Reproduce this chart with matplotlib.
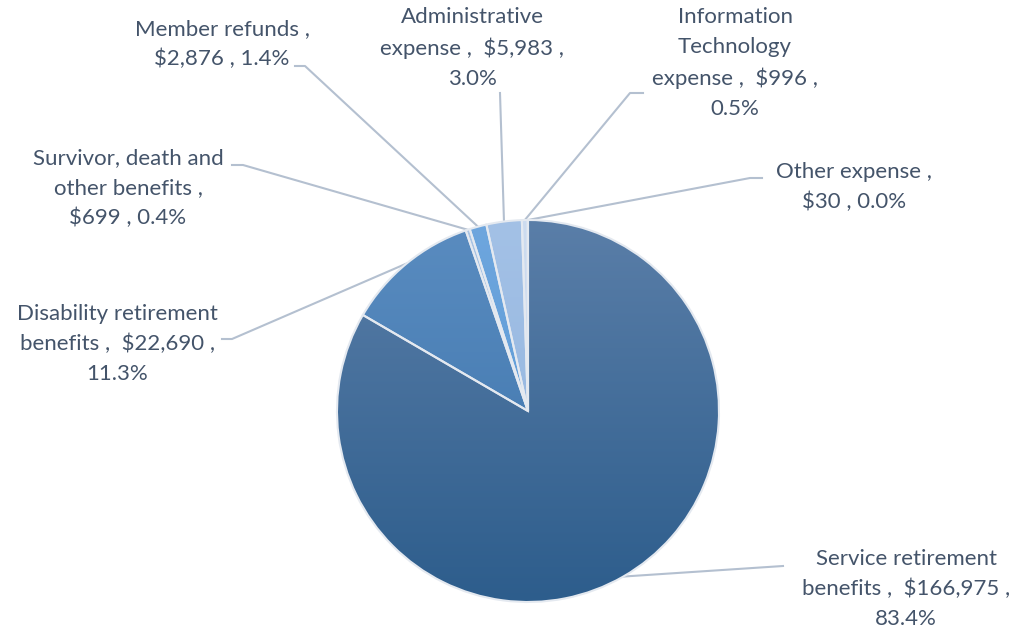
import numpy as np
import matplotlib
matplotlib.use("Agg")
import matplotlib.pyplot as plt
from matplotlib.colors import LinearSegmentedColormap

# expense categories and amounts (thousands)
categories = ["Service retirement\nbenefits", "Disability retirement\nbenefits",
              "Survivor, death and\nother benefits", "Member refunds",
              "Administrative\nexpense", "Information\nTechnology\nexpense",
              "Other expense"]
amounts = [166975, 22690, 699, 2876, 5983, 996, 30]
pcts = [83.4, 11.3, 0.4, 1.4, 3.0, 0.5, 0.0]

label_texts = [
    "Service retirement\nbenefits ,  $166,975 ,\n83.4%",
    "Disability retirement\nbenefits ,  $22,690 ,\n11.3%",
    "Survivor, death and\nother benefits ,\n$699 , 0.4%",
    "Member refunds ,\n$2,876 , 1.4%",
    "Administrative\nexpense ,  $5,983 ,\n3.0%",
    "Information\nTechnology\nexpense ,  $996 ,\n0.5%",
    "Other expense ,\n$30 , 0.0%",
]

# gradient colours (top, bottom) per slice
top_cols = ["#5a7ea8", "#5a8cc0", "#a9c4e4", "#6ea6de", "#a3c1e6", "#cddcf0", "#5a7ea8"]
bot_cols = ["#2d5d8c", "#3a72aa", "#8fb3de", "#5596d2", "#8fb2dd", "#c0d4ec", "#4a6f9a"]

W, H = 1014, 633
fig = plt.figure(figsize=(W / 100, H / 100), dpi=100)
ax = fig.add_axes([0, 0, 1, 1])

cx, cy, r = 528, 411, 191

# y axis is flipped below, so counterclock=True reads clockwise on screen
wedges, _ = ax.pie(amounts, center=(cx, cy), radius=r, startangle=-90,
                   counterclock=True, frame=True,
                   wedgeprops=dict(linewidth=1.5, edgecolor="#e4e9f0"))

grad = np.linspace(0, 1, 256).reshape(-1, 1)
for w, c0, c1 in zip(wedges, top_cols, bot_cols):
    cmap = LinearSegmentedColormap.from_list("g", [c0, c1])
    w.set_facecolor("none")
    im = ax.imshow(grad, cmap=cmap, extent=(cx - r, cx + r, cy + r, cy - r),
                   aspect="auto", zorder=1, interpolation="bilinear")
    im.set_clip_path(w)
    w.set_zorder(2)
ax.set_xlim(0, W)
ax.set_ylim(H, 0)
ax.set_aspect("equal")
ax.axis("off")

# label centres (layout) and leader line start points
label_pos = [(906, 589), (117, 344), (128, 188), (222, 44), (472, 48), (735, 63), (854, 187)]
leader_start = [[(783, 566)], [(222, 339), (232, 339)], [(232, 165), (243, 165)],
                [(295, 66), (305, 66)], [(500, 93)], [(643, 93), (630, 93)],
                [(762, 178), (750, 178)]]

text_col = "#44546a"
line_col = "#b4c0d0"
for w, txt, pos, pts in zip(wedges, label_texts, label_pos, leader_start):
    ang = np.deg2rad((w.theta1 + w.theta2) / 2)
    ex, ey = cx + r * np.cos(ang), cy + r * np.sin(ang)
    xs = [p[0] for p in pts] + [ex]
    ys = [p[1] for p in pts] + [ey]
    ax.plot(xs, ys, color=line_col, lw=1.5, zorder=0.5)
    ax.text(pos[0], pos[1], txt, ha="center", va="center", fontsize=16,
            family="Lato", color=text_col, linespacing=1.6)

fig.savefig("out.png", dpi=100)
